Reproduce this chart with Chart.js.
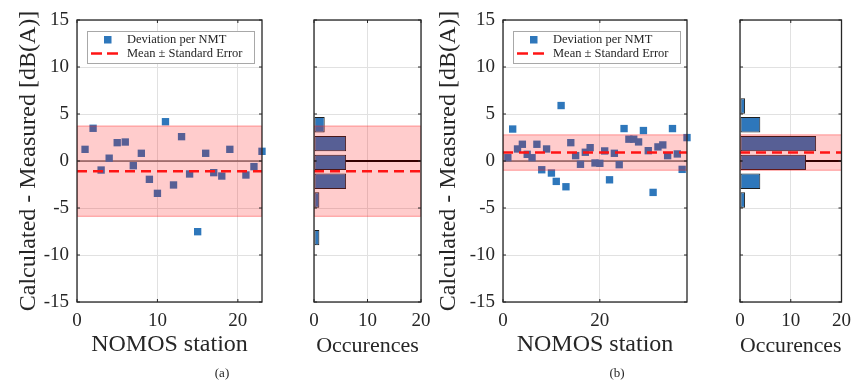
<!DOCTYPE html>
<html>
<head>
<meta charset="utf-8">
<script src="https://cdn.jsdelivr.net/npm/chart.js@4.4.1/dist/chart.umd.min.js"></script>
<style>
    body { margin: 0; background: #fff; }
    #wrap { position: relative; width: 859px; height: 385px; overflow: hidden; background: #fff; }
    #wrap canvas { position: absolute; left: 0; top: 0; }
    .cap { position: absolute; top: 365px; font: 13px "Liberation Serif", serif; color: #262626; transform: translateX(-50%); }
</style>
</head>
<body>
<div id="wrap">
    <canvas id="scatterA" width="859" height="385"></canvas>
    <canvas id="histA" width="859" height="385"></canvas>
    <canvas id="scatterB" width="859" height="385"></canvas>
    <canvas id="histB" width="859" height="385"></canvas>
    <div class="cap" style="left:222px">(a)</div>
    <div class="cap" style="left:617px">(b)</div>
</div>
<script>
// Panel (a): deviation per station
const stationsA = [1, 2, 3, 4, 5, 6, 7, 8, 9, 10, 11, 12, 13, 14, 15, 16, 17, 18, 19, 21, 22, 23];
const deviationsA = [1.24, 3.48, -0.96, 0.3, 1.95, 2.02, -0.5, 0.82, -1.95, -3.44, 4.18,
    -2.55, 2.59, -1.38, -7.52, 0.82, -1.24, -1.6, 1.24, -1.49, -0.6, 1.03];
const meanA = -1.08;
const spreadA = 4.8;
const binCentersA = [3.85, 1.85, -0.15, -2.15, -4.15, -6.15, -8.15];
const countsA = [2, 6, 6, 6, 1, 0, 1];

// Panel (b)
const stationsB = [1, 2, 3, 4, 5, 6, 7, 8, 9, 10, 11, 12, 13, 14, 15, 16, 17, 18, 19, 20,
    21, 22, 23, 24, 25, 26, 27, 28, 29, 30, 31, 32, 33, 34, 35, 36, 37, 38];
const deviationsB = [0.35, 3.4, 1.28, 1.78, 0.71, 0.35, 1.78, -0.93, 1.28, -1.28,
    -2.17, 5.9, -2.74, 1.95, 0.57, -0.35, 0.93, 1.42, -0.21, -0.25,
    1.07, -2.0, 0.82, -0.39, 3.45, 2.32, 2.32, 2.03, 3.24, 1.1,
    -3.34, 1.5, 1.71, 0.57, 3.45, 0.75, -0.89, 2.49];
const meanB = 0.9;
const spreadB = 1.88;
const binCentersB = [5.85, 3.85, 1.85, -0.15, -2.15, -4.15];
const countsB = [1, 4, 15, 13, 4, 1];

const yTicks = { min: -15, max: 15, step: 5 };
const countTicks = { min: 0, max: 20, step: 10 };

const yTitle = "Calculated - Measured [dB(A)]";
const stationTitle = "NOMOS station";
const countTitle = "Occurences";
const legendLabels = ["Deviation per NMT", "Mean \u00b1 Standard Error"];

const SERIF = '"Liberation Serif", "Times New Roman", serif';
const TEXT = '#262626';
const BLUE = '#2e77bb';
const GRID = '#e1e1e1';

Chart.defaults.font.family = SERIF;
Chart.defaults.color = TEXT;

// Band, mean and zero line drawn through the chart scales
function overlayPlugin(mean, spread, opts) {
    return {
        id: 'overlay',
        beforeDatasetsDraw(chart) {
            const { ctx, chartArea: a, scales: { y } } = chart;
            const py = y.getPixelForValue(0);
            ctx.save();
            ctx.strokeStyle = opts.zeroColor;
            ctx.lineWidth = opts.zeroWidth;
            ctx.beginPath();
            ctx.moveTo(a.left, py);
            ctx.lineTo(a.right, py);
            ctx.stroke();
            ctx.restore();
        },
        afterDatasetsDraw(chart) {
            const { ctx, chartArea: a, scales: { y } } = chart;
            const top = y.getPixelForValue(mean + spread);
            const bottom = y.getPixelForValue(mean - spread);
            ctx.save();
            ctx.beginPath();
            ctx.rect(a.left, a.top, a.width, a.height);
            ctx.clip();
            ctx.fillStyle = 'rgba(255, 0, 0, 0.2)';
            ctx.fillRect(a.left, top, a.width, bottom - top);
            ctx.strokeStyle = 'rgba(255, 40, 40, 0.45)';
            ctx.lineWidth = 1;
            ctx.strokeRect(a.left, top, a.width, bottom - top);
            const pm = y.getPixelForValue(mean);
            ctx.strokeStyle = '#ff1414';
            ctx.lineWidth = 2.5;
            ctx.setLineDash([10, 6]);
            ctx.beginPath();
            ctx.moveTo(a.left, pm);
            ctx.lineTo(a.right, pm);
            ctx.stroke();
            ctx.restore();
        },
        afterDraw(chart) {
            drawFrame(chart);
            if (opts.legend) drawLegend(chart);
        }
    };
}

// Box round the axes with inward ticks on all sides
function drawFrame(chart) {
    const { ctx, chartArea: a, scales: { x, y } } = chart;
    const len = 3;
    ctx.save();
    ctx.strokeStyle = TEXT;
    ctx.lineWidth = 1;
    ctx.beginPath();
    x.ticks.forEach(t => {
        const px = x.getPixelForValue(t.value);
        ctx.moveTo(px, a.bottom); ctx.lineTo(px, a.bottom - len);
        ctx.moveTo(px, a.top); ctx.lineTo(px, a.top + len);
    });
    y.ticks.forEach(t => {
        const py = y.getPixelForValue(t.value);
        ctx.moveTo(a.left, py); ctx.lineTo(a.left + len, py);
        ctx.moveTo(a.right, py); ctx.lineTo(a.right - len, py);
    });
    ctx.stroke();
    ctx.lineWidth = 1.3;
    ctx.strokeRect(a.left, a.top, a.width, a.height);
    ctx.restore();
}

function drawLegend(chart) {
    const { ctx, chartArea: a } = chart;
    const bx = a.left + 10, by = a.top + 11, bw = 167, bh = 32;
    ctx.save();
    ctx.fillStyle = '#fff';
    ctx.fillRect(bx, by, bw, bh);
    ctx.strokeStyle = '#a8a8a8';
    ctx.lineWidth = 1;
    ctx.strokeRect(bx + 0.5, by + 0.5, bw, bh);

    ctx.fillStyle = BLUE;
    ctx.fillRect(bx + 17, by + 5, 7.5, 7.5);

    ctx.strokeStyle = '#ff1414';
    ctx.lineWidth = 2.5;
    ctx.setLineDash([11, 5]);
    ctx.beginPath();
    ctx.moveTo(bx + 4, by + 22.5);
    ctx.lineTo(bx + 31, by + 22.5);
    ctx.stroke();

    ctx.fillStyle = TEXT;
    ctx.font = '12.5px ' + SERIF;
    ctx.textBaseline = 'middle';
    ctx.fillText(legendLabels[0], bx + 40, by + 9);
    ctx.fillText(legendLabels[1], bx + 40, by + 22.5);
    ctx.restore();
}

function linearAxis(range, extra) {
    return Object.assign({
        type: 'linear',
        min: range.min,
        max: range.max,
        offset: false,
        grid: { color: GRID, drawTicks: false, lineWidth: 1, offset: false },
        border: { display: false }
    }, extra);
}

function xAxis(range, title, titleSize) {
    return linearAxis(range, {
        position: 'bottom',
        ticks: { stepSize: range.step, includeBounds: false, padding: 8, font: { size: 19 }, maxRotation: 0 },
        title: { display: true, text: title, font: { size: titleSize }, padding: { top: 0, bottom: 3 } },
        afterFit(scale) { scale.height = 60; }
    });
}

function yAxis(withLabels, titlePad) {
    return linearAxis(yTicks, {
        position: 'left',
        ticks: { stepSize: yTicks.step, display: withLabels, padding: 8, font: { size: 19 } },
        title: { display: withLabels, text: yTitle, font: { size: 24 }, padding: { top: titlePad, bottom: 0 } },
        afterFit(scale) { scale.width = withLabels ? 77 : 0; }
    });
}

function baseOptions(padding) {
    return {
        responsive: false,
        animation: false,
        events: [],
        layout: { padding },
        plugins: { legend: { display: false }, tooltip: { enabled: false } }
    };
}

function makeScatter(id, stations, devs, mean, spread, xMax, xStep, padding, titlePad) {
    const options = baseOptions(padding);
    options.scales = {
        x: xAxis({ min: 0, max: xMax, step: xStep }, stationTitle, 24),
        y: yAxis(true, titlePad)
    };
    return new Chart(document.getElementById(id), {
        type: 'scatter',
        data: {
            datasets: [{
                data: stations.map((s, i) => ({ x: s, y: devs[i] })),
                pointStyle: 'rect',
                pointRadius: 5.2,
                backgroundColor: BLUE,
                borderWidth: 0,
                clip: false
            }]
        },
        options,
        plugins: [overlayPlugin(mean, spread, { zeroColor: '#333', zeroWidth: 1.2, legend: true })]
    });
}

function makeHist(id, centers, counts, mean, spread, padding) {
    const options = baseOptions(padding);
    options.indexAxis = 'y';
    options.scales = {
        x: xAxis(countTicks, countTitle, 22),
        y: yAxis(false, 0)
    };
    const bars = centers.map((c, i) => ({ x: counts[i], y: c })).filter(d => d.x > 0);
    return new Chart(document.getElementById(id), {
        type: 'bar',
        data: {
            datasets: [{
                data: bars,
                backgroundColor: BLUE,
                borderColor: '#1e1e1e',
                borderWidth: 1,
                borderSkipped: false,
                barPercentage: 0.82,
                categoryPercentage: 1
            }]
        },
        options,
        plugins: [overlayPlugin(mean, spread, { zeroColor: '#000', zeroWidth: 2, legend: false })]
    });
}

makeScatter('scatterA', stationsA, deviationsA, meanA, spreadA, 23, 10,
    { left: 0, top: 20, right: 597, bottom: 23 }, 14);
makeHist('histA', binCentersA, countsA, meanA, spreadA,
    { left: 314, top: 20, right: 438, bottom: 23 });
makeScatter('scatterB', stationsB, deviationsB, meanB, spreadB, 38, 20,
    { left: 426, top: 20, right: 172, bottom: 23 }, 8);
makeHist('histB', binCentersB, countsB, meanB, spreadB,
    { left: 740, top: 20, right: 12, bottom: 23 });
</script>
</body>
</html>
